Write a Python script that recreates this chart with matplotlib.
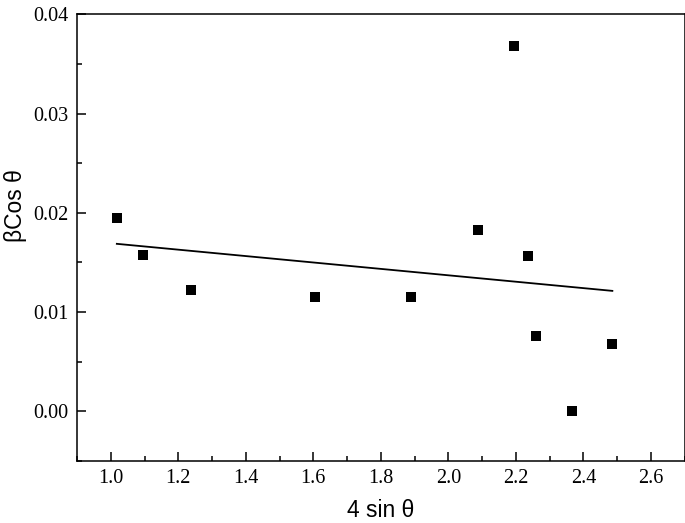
import numpy as np
import matplotlib
matplotlib.use('Agg')
from matplotlib import pyplot as plt
from matplotlib.ticker import MultipleLocator

# 数据
x_vals = [1.018, 1.096, 1.239, 1.606, 1.889, 2.089, 2.194, 2.237, 2.259, 2.365, 2.486]
y_vals = [0.0195, 0.0158, 0.0122, 0.0115, 0.0115, 0.0183, 0.0368, 0.0157, 0.0076, 0.0000, 0.0068]

x_ticks = [1.0, 1.2, 1.4, 1.6, 1.8, 2.0, 2.2, 2.4, 2.6]
y_ticks = [0.00, 0.01, 0.02, 0.03, 0.04]

fig = plt.figure(figsize=(6.85, 5.23), dpi=100)
ax = fig.add_axes([0.1124, 0.1185, 0.887, 0.8542])

# 散点
ax.plot(x_vals, y_vals, 's', color='black', markersize=7.2, markeredgewidth=0)

# 线性拟合
k, b = np.polyfit(x_vals, y_vals, 1)
xf = np.array([min(x_vals), max(x_vals)])
ax.plot(xf, k * xf + b, color='black', linewidth=1.3)

ax.set_xlim(0.9, 2.7)
ax.set_ylim(-0.005, 0.04)
ax.set_xticks(x_ticks)
ax.set_yticks(y_ticks)
ax.set_xticklabels(['%.1f' % v for v in x_ticks])
ax.set_yticklabels(['%.2f' % v for v in y_ticks])
ax.xaxis.set_minor_locator(MultipleLocator(0.1))
ax.yaxis.set_minor_locator(MultipleLocator(0.005))

ax.tick_params(which='both', direction='in', width=1.1, top=False, right=False)
ax.tick_params(which='major', length=6.5, pad=6)
ax.tick_params(which='minor', length=3.5)
for lab in ax.get_xticklabels() + ax.get_yticklabels():
    lab.set_fontfamily('Liberation Serif')
    lab.set_fontsize(14.5)
for s in ax.spines.values():
    s.set_linewidth(1.1)

ax.set_xlabel('4 sin θ', fontsize=16.5, family='Liberation Sans', labelpad=8)
ax.set_ylabel('βCos θ', fontsize=16.5, family='Liberation Sans')
ax.yaxis.set_label_coords(-0.082, 0.571)

plt.savefig('out.png', dpi=100)
